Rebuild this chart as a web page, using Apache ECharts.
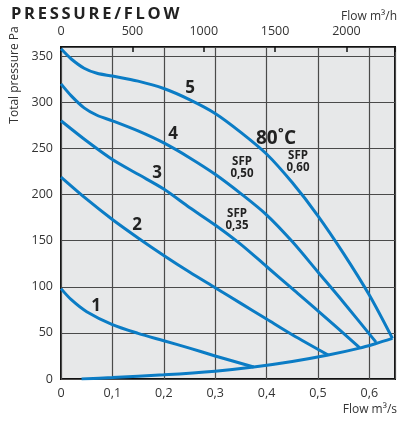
<!DOCTYPE html>
<html>
<head>
<meta charset="utf-8">
<script src="https://cdn.jsdelivr.net/npm/echarts@6/dist/echarts.min.js"></script>
<style>
html,body{margin:0;padding:0;background:#fff;}
#c{width:398px;height:421px;}
</style>
</head>
<body>
<div id="c"></div>
<script>
// Flow in m3/s, total pressure in Pa
const curve1 = [[0,98],[0.02,86],[0.05,73],[0.1,59],[0.15,49.5],[0.2,41.5],[0.25,33.5],[0.3,25],[0.375,13]];
const curve2 = [[0,219],[0.05,195],[0.1,173],[0.15,153],[0.2,134],[0.25,116],[0.3,99],[0.35,82],[0.4,65],[0.45,48],[0.52,26]];
const curve3 = [[0,280],[0.05,258],[0.1,238],[0.15,222],[0.2,206],[0.25,186],[0.3,167],[0.35,146],[0.4,122],[0.45,98],[0.5,74],[0.581,34]];
const curve4 = [[0,320],[0.02,307],[0.045,294],[0.07,286],[0.1,280],[0.15,269],[0.2,256],[0.25,240],[0.3,222],[0.35,201],[0.4,178],[0.45,149],[0.5,116],[0.55,83],[0.613,40]];
const curve5 = [[0,358],[0.02,347],[0.045,337],[0.07,331.5],[0.1,328.5],[0.15,323],[0.2,315],[0.25,303],[0.3,288],[0.35,267.5],[0.4,244],[0.45,213],[0.5,177],[0.55,136],[0.6,91],[0.645,44]];
const systemCurve = [[0.04,0],[0.1,1.5],[0.2,4.5],[0.3,8.5],[0.375,13],[0.45,19],[0.52,26],[0.581,33.5],[0.613,38.5],[0.645,44]];
const curveNames = ['1','2','3','4','5'];
const flowMax = 0.65;        // m3/s
const flowMaxH = 2340;       // m3/h
const pressureMax = 360;

const BLUE = '#0b7cc5';
const FONT = '"Open Sans", "Noto Sans", sans-serif';
const chart = echarts.init(document.getElementById('c'));

function lineSeries(data){
  return {type:'line', data:data, xAxisIndex:0, yAxisIndex:0, smooth:0.3, symbol:'none',
    lineStyle:{color:BLUE, width:3}, silent:true, z:5};
}

const txt = (s, x, y, size) => ({
  type:'text', x:x, y:y, z:100,
  style:{text:s, font:'bold '+size+'px '+FONT, fill:'#222', align:'center', verticalAlign:'middle', lineHeight:12}
});

chart.setOption({
  animation:false,
  grid:{left:61, top:47, width:335, height:332, show:true, backgroundColor:'#e7e8e9', borderColor:'#111', borderWidth:2, z:0},
  xAxis:[{
    type:'value', min:0, max:flowMax, interval:0.1, position:'bottom',
    axisLine:{show:false}, axisTick:{show:false},
    splitLine:{show:true, lineStyle:{color:'#4a4a4a', width:1.2}},
    axisLabel:{color:'#333', fontSize:12.5, fontFamily:FONT, margin:8,
      formatter:v=>Math.abs(v*10-Math.round(v*10))<1e-6 ? String(+v.toFixed(1)).replace('.',',') : ''}
  },{
    type:'value', min:0, max:flowMaxH, interval:500, position:'top',
    axisLine:{show:false}, splitLine:{show:false},
    axisTick:{show:true, inside:true, length:5, lineStyle:{color:'#111', width:1.5}},
    axisLabel:{color:'#333', fontSize:12.5, fontFamily:FONT, margin:9,
      formatter:v=>(v%500===0 ? String(v) : '')}
  }],
  yAxis:{
    type:'value', min:0, max:pressureMax, interval:50,
    axisLine:{show:false}, axisTick:{show:false},
    splitLine:{show:true, lineStyle:{color:'#4a4a4a', width:1.2}},
    axisLabel:{color:'#333', fontSize:12.5, fontFamily:FONT, margin:8,
      formatter:v=>(v%50===0 ? String(v) : '')}
  },
  series:[lineSeries(curve1), lineSeries(curve2), lineSeries(curve3), lineSeries(curve4), lineSeries(curve5), lineSeries(systemCurve)],
  graphic:[
    {type:'text', x:11, y:14, z:100, style:{text:'P\u2009R\u2009E\u2009S\u2009S\u2009U\u2009R\u2009E\u2009/\u2009F\u2009L\u2009O\u2009W', font:'bold 16.5px '+FONT, fill:'#222', align:'left', verticalAlign:'middle'}},
    {type:'text', x:397, y:17, z:100, style:{text:'Flow m³/h', font:'12px '+FONT, fill:'#333', align:'right', verticalAlign:'middle'}},
    {type:'text', x:397, y:410, z:100, style:{text:'Flow m³/s', font:'12px '+FONT, fill:'#333', align:'right', verticalAlign:'middle'}},
    {type:'text', x:15, y:75, rotation:Math.PI/2, z:100, style:{text:'Total pressure Pa', font:'12px '+FONT, fill:'#333', align:'center', verticalAlign:'middle'}},
    txt(curveNames[0], 96, 306, 17),
    txt(curveNames[1], 137, 225, 17),
    txt(curveNames[2], 157, 173, 17),
    txt(curveNames[3], 173, 134, 17),
    txt(curveNames[4], 190, 88, 17),
    txt('80˚C', 276, 139, 19),
    txt('SFP\n0,60', 298, 162, 11.5),
    txt('SFP\n0,50', 242, 168, 11.5),
    txt('SFP\n0,35', 237, 220, 11.5)
  ]
});
</script>
</body>
</html>
